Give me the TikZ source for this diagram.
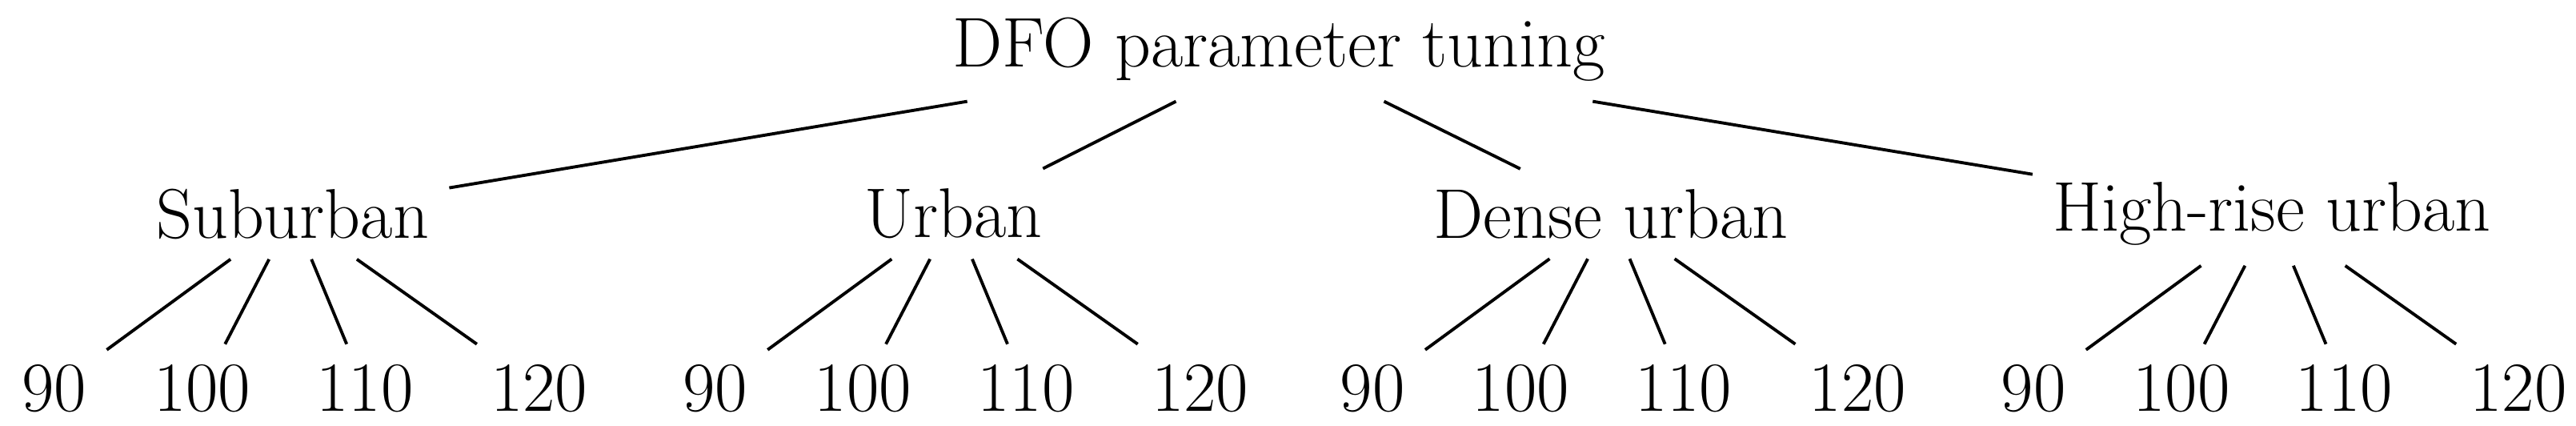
\documentclass[tikz,border=0pt]{standalone}
\begin{document}
\begin{tikzpicture}[x=0.02054cm,y=-0.02054cm,
  lab/.style={font=\fontsize{25}{30}\selectfont, inner sep=7pt, anchor=center},
  conn/.style={line width=1.1pt}]
\useasboundingbox (0,0) rectangle (1567,258.5);
\node[lab] (root) at (778,30) {DFO parameter tuning};
\foreach \n/\x/\t in {a/178/Suburban, b/580/Urban, c/980/Dense urban, d/1382/High-rise urban}{
  \node[lab] (\n) at (\x,130) {\t};
  \node[lab] (\n1) at (\x-145,236) {90};
  \node[lab] (\n2) at (\x-55,236) {100};
  \node[lab] (\n3) at (\x+44,236) {110};
  \node[lab] (\n4) at (\x+150,236) {120};
  \draw[conn] (\n) -- (\n1);
  \draw[conn] (\n) -- (\n2);
  \draw[conn] (\n) -- (\n3);
  \draw[conn] (\n) -- (\n4);
  \draw[conn] (root) -- (\n);
}
\end{tikzpicture}
\end{document}
